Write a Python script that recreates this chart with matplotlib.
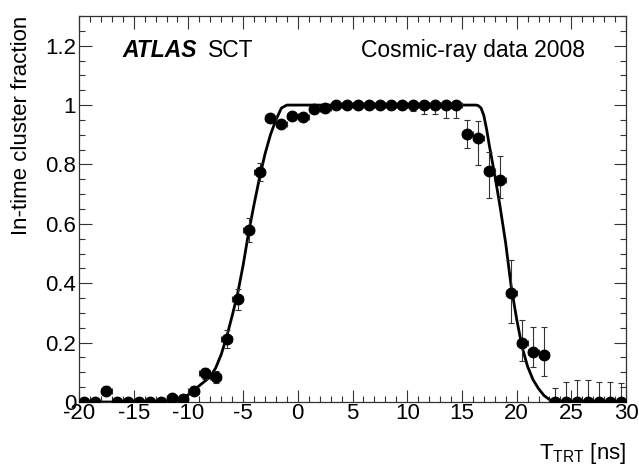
"""In-time cluster fraction vs TRT time, SCT cosmic-ray data."""

import matplotlib

matplotlib.use("Agg")
import matplotlib.pyplot as plt
import numpy as np
from matplotlib.ticker import FixedLocator, MultipleLocator, FuncFormatter

plt.rcParams["font.family"] = ["Liberation Sans", "DejaVu Sans"]
plt.rcParams["mathtext.fontset"] = "custom"
plt.rcParams["mathtext.rm"] = "Liberation Sans"
plt.rcParams["mathtext.it"] = "Liberation Sans:italic"
plt.rcParams["axes.unicode_minus"] = False

# data points (bin centres in ns)
t_trt = [-19.5, -18.5, -17.5, -16.5, -15.5, -14.5, -13.5, -12.5, -11.5, -10.5,
         -9.5, -8.5, -7.5, -6.5, -5.5, -4.5, -3.5, -2.5, -1.5, -0.5,
         0.5, 1.5, 2.5, 3.5, 4.5, 5.5, 6.5, 7.5, 8.5, 9.5,
         10.5, 11.5, 12.5, 13.5, 14.5, 15.5, 16.5, 17.5, 18.5, 19.5,
         20.5, 21.5, 22.5, 23.5, 24.5, 25.5, 26.5, 27.5, 28.5, 29.5]
frac = [0.0, 0.0, 0.038, 0.0, 0.0, 0.0, 0.0, 0.0, 0.013, 0.01,
        0.038, 0.096, 0.085, 0.211, 0.346, 0.58, 0.775, 0.955, 0.937, 0.963,
        0.96, 0.987, 0.99, 1.0, 1.0, 1.0, 1.0, 1.0, 1.0, 1.0,
        1.0, 1.0, 1.0, 1.0, 1.0, 0.904, 0.888, 0.778, 0.748, 0.367,
        0.197, 0.167, 0.158, 0.0, 0.0, 0.0, 0.0, 0.0, 0.0, 0.0]
err_lo = [0.0, 0.0, 0.015, 0.0, 0.0, 0.0, 0.0, 0.0, 0.008, 0.008,
          0.015, 0.02, 0.02, 0.03, 0.035, 0.04, 0.03, 0.01, 0.01, 0.01,
          0.01, 0.008, 0.008, 0.005, 0.005, 0.005, 0.005, 0.005, 0.005, 0.01,
          0.02, 0.03, 0.03, 0.045, 0.043, 0.05, 0.09, 0.09, 0.06, 0.1,
          0.06, 0.05, 0.07, 0.0, 0.0, 0.0, 0.0, 0.0, 0.0, 0.0]
err_hi = [0.0, 0.0, 0.015, 0.0, 0.0, 0.0, 0.0, 0.0, 0.008, 0.008,
          0.015, 0.02, 0.02, 0.03, 0.035, 0.04, 0.03, 0.01, 0.01, 0.01,
          0.01, 0.008, 0.008, 0.0, 0.0, 0.0, 0.0, 0.0, 0.0, 0.0,
          0.0, 0.0, 0.0, 0.0, 0.0, 0.045, 0.06, 0.065, 0.08, 0.11,
          0.08, 0.085, 0.095, 0.046, 0.068, 0.074, 0.074, 0.068, 0.068, 0.063]

# fit curve
curve_t = [-20, -12, -11.5, -11, -10.5, -10, -9.5, -9, -8.5, -8, -7.5, -7, -6.5,
           -6, -5.5, -5, -4.5, -4, -3.5, -3, -2.5, -2, -1.5, -1, 16.3, 16.5,
           16.75, 17.0, 17.25, 17.5, 18.0, 18.5, 19.0, 19.5, 20.0, 20.5, 21.0,
           21.5, 22.0, 22.5, 23.0, 23.5, 30]
curve_y = [0.0, 0.0, 0.003, 0.008, 0.015, 0.025, 0.04, 0.055, 0.07, 0.085, 0.115,
           0.16, 0.22, 0.29, 0.365, 0.46, 0.57, 0.665, 0.755, 0.835, 0.9, 0.95,
           0.99, 1.0, 1.0, 0.998, 0.99, 0.965, 0.92, 0.865, 0.765, 0.655, 0.535,
           0.39, 0.28, 0.185, 0.12, 0.075, 0.045, 0.022, 0.008, 0.0, 0.0]

fig = plt.figure(figsize=(6.39, 4.65), dpi=100)
ax = fig.add_axes([0.1236, 0.1355, 0.8561, 0.8301])

ax.plot(curve_t, curve_y, color="black", lw=2.0, zorder=3)
ax.errorbar(t_trt, frac, yerr=[err_lo, err_hi], xerr=0.5, fmt="o", color="black",
            ecolor="#333333", elinewidth=0.8, capsize=2.2, capthick=0.8,
            markersize=7.5, zorder=4)

ax.set_xlim(-20, 30)
ax.set_ylim(0, 1.3)
ax.xaxis.set_major_locator(MultipleLocator(5))
ax.xaxis.set_minor_locator(MultipleLocator(1))
ax.yaxis.set_major_locator(FixedLocator([0, 0.2, 0.4, 0.6, 0.8, 1.0, 1.2]))
ax.yaxis.set_minor_locator(MultipleLocator(0.05))
ax.yaxis.set_major_formatter(FuncFormatter(lambda v, p: f"{v:g}"))
ax.xaxis.set_major_formatter(FuncFormatter(lambda v, p: f"{v:g}"))

ax.tick_params(which="both", direction="in", top=True, right=True,
               labelsize=16, width=0.8, color="#333333")
ax.tick_params(which="major", length=9)
ax.tick_params(which="minor", length=4.5)
ax.tick_params(axis="x", pad=1)
ax.tick_params(axis="y", pad=2)
for sp in ax.spines.values():
    sp.set_linewidth(0.9)
    sp.set_color("#333333")

ax.set_ylabel("In-time cluster fraction", fontsize=16, loc="top")
ax.yaxis.set_label_coords(-0.085, 1.0)
ax.text(1.0, -0.148, r"T$_{\mathrm{TRT}}$ [ns]", transform=ax.transAxes,
        ha="right", va="baseline", fontsize=16)

ax.text(0.079, 0.893, "ATLAS", transform=ax.transAxes, fontsize=16.5,
        fontweight="bold", fontstyle="italic", va="baseline")
ax.text(0.236, 0.893, "SCT", transform=ax.transAxes, fontsize=16.5, va="baseline")
ax.text(0.925, 0.893, "Cosmic-ray data 2008", transform=ax.transAxes,
        fontsize=16.5, ha="right", va="baseline")

fig.savefig("out.png", dpi=100)
